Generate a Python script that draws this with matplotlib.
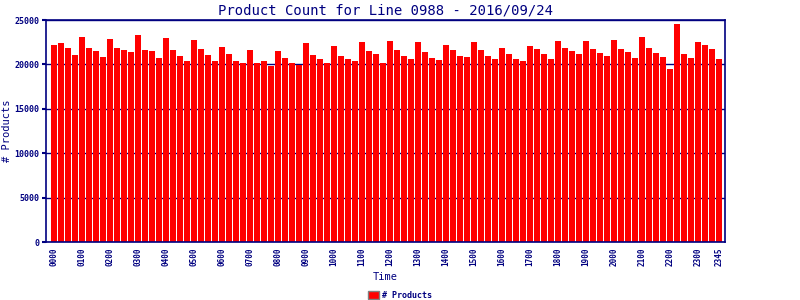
import matplotlib.pyplot as plt
from matplotlib.patches import Patch

plt.rcParams['font.family'] = 'DejaVu Sans Mono'

# 15분 간격 시간 (0000 ~ 2345)
times = ["%02d%02d" % (h, m) for h in range(24) for m in (0, 15, 30, 45)]

counts = [
    22205, 22430, 21870, 21080, 23105, 21870, 21530, 20855,
    22880, 21870, 21645, 21420, 23330, 21645, 21530, 20740,
    22990, 21645, 20970, 20405, 22770, 21755, 21080, 20405,
    21980, 21190, 20405, 20180, 21645, 20180, 20405, 19843,
    21530, 20740, 20180, 19955, 22430, 21080, 20630, 20180,
    22092, 20970, 20630, 20405, 22542, 21530, 21190, 20180,
    22655, 21645, 20970, 20630, 22542, 21420, 20740, 20518,
    22205, 21645, 20970, 20855, 22542, 21645, 20970, 20630,
    21870, 21190, 20630, 20405, 22092, 21755, 21190, 20630,
    22655, 21870, 21530, 21190, 22655, 21755, 21305, 20970,
    22770, 21755, 21420, 20740, 23105, 21870, 21305, 20855,
    19505, 24570, 21190, 20740, 22542, 22205, 21755, 20630,
]

navy = '#000080'

fig = plt.figure(figsize=(8, 3), dpi=100)
ax = fig.add_axes([0.058, 0.193, 0.848, 0.74])

x = list(range(len(times)))
ax.set_axisbelow(True)
ax.grid(axis='y', color=navy, linewidth=1)
ax.bar(x, counts, width=0.86, color='#ff0000', linewidth=0)

ax.set_xlim(-1.07, 95.86)
ax.set_ylim(0, 25000)
ax.set_yticks([0, 5000, 10000, 15000, 20000, 25000])

tick_pos = list(range(0, 96, 4)) + [95]
ax.set_xticks(tick_pos)
ax.set_xticklabels([times[i] for i in tick_pos], rotation=90)
ax.tick_params(axis='x', length=0, pad=4, labelsize=5.5, colors=navy)
ax.tick_params(axis='y', length=3, width=1.5, pad=2, labelsize=6, colors=navy)
for lbl in ax.get_xticklabels() + ax.get_yticklabels():
    lbl.set_fontweight('bold')

for s in ax.spines.values():
    s.set_color(navy)
    s.set_linewidth(1.2)

ax.set_title("Product Count for Line 0988 - 2016/09/24", color=navy, fontsize=10, pad=4)
ax.set_xlabel("Time", color=navy, fontsize=7.5, labelpad=4)
ax.set_ylabel("# Products", color=navy, fontsize=7.5, labelpad=2)

leg = fig.legend(handles=[Patch(facecolor='#ff0000', edgecolor='gray', linewidth=1, label='# Products')],
                 loc='lower center', bbox_to_anchor=(0.5, -0.025), frameon=False,
                 handlelength=1.4, handleheight=1.0, handletextpad=0.4,
                 prop={'weight': 'bold', 'size': 6})
for t in leg.get_texts():
    t.set_color(navy)

plt.savefig("out.png", dpi=100)
